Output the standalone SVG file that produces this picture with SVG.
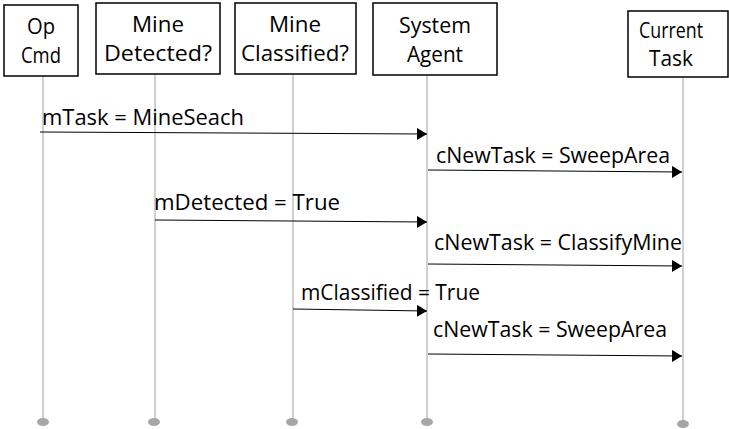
<svg xmlns="http://www.w3.org/2000/svg" width="729" height="429" viewBox="0 0 729 429">
<defs>
<marker id="ah" markerWidth="10" markerHeight="12" refX="10" refY="6" orient="auto" markerUnits="userSpaceOnUse">
<path d="M0,0 L10,6 L0,12 Z" fill="#000"/>
</marker>
<style>
.box{fill:#fff;stroke:#000;stroke-width:1.5}
.lbl{font-family:"Open Sans","Liberation Sans",sans-serif;font-size:21px;fill:#000;text-anchor:middle}
.msg{font-family:"Open Sans","Liberation Sans",sans-serif;font-size:21px;fill:#000}
.life{stroke:#c0c0c0;stroke-width:1.5;fill:none}
.dot{fill:#a6a6a6}
.arr{stroke:#000;stroke-width:1;fill:none;marker-end:url(#ah)}
</style>
</defs>
<rect width="729" height="429" fill="#fff"/>
<g id="lifelines">
<line class="life" x1="43" y1="76" x2="43" y2="422"/>
<line class="life" x1="155" y1="74" x2="155" y2="422"/>
<line class="life" x1="293" y1="74" x2="293" y2="422"/>
<line class="life" x1="427" y1="75" x2="427" y2="422"/>
<line class="life" x1="683" y1="77" x2="683" y2="424"/>
<ellipse class="dot" cx="43" cy="422" rx="6" ry="4"/>
<ellipse class="dot" cx="154" cy="422" rx="6" ry="4"/>
<ellipse class="dot" cx="292" cy="422" rx="6" ry="4"/>
<ellipse class="dot" cx="427" cy="422" rx="6" ry="4"/>
<ellipse class="dot" cx="683" cy="424" rx="6" ry="4"/>
</g>
<g id="opcmd">
<rect class="box" x="4" y="5" width="74" height="71"/>
<text class="lbl" x="41" y="34" textLength="28" lengthAdjust="spacingAndGlyphs">Op</text>
<text class="lbl" x="41" y="63" textLength="40" lengthAdjust="spacingAndGlyphs">Cmd</text>
</g>
<g id="minedetected">
<rect class="box" x="96" y="3" width="124" height="71"/>
<text class="lbl" x="158" y="32" textLength="52" lengthAdjust="spacingAndGlyphs">Mine</text>
<text class="lbl" x="158" y="61" textLength="108" lengthAdjust="spacingAndGlyphs">Detected?</text>
</g>
<g id="mineclassified">
<rect class="box" x="235" y="3" width="121" height="71"/>
<text class="lbl" x="295" y="32" textLength="52" lengthAdjust="spacingAndGlyphs">Mine</text>
<text class="lbl" x="295" y="61" textLength="108" lengthAdjust="spacingAndGlyphs">Classified?</text>
</g>
<g id="systemagent">
<rect class="box" x="373" y="3" width="124" height="72"/>
<text class="lbl" x="435" y="33" textLength="72" lengthAdjust="spacingAndGlyphs">System</text>
<text class="lbl" x="435" y="62" textLength="56" lengthAdjust="spacingAndGlyphs">Agent</text>
</g>
<g id="currenttask">
<rect class="box" x="628" y="11" width="100" height="66"/>
<text class="lbl" x="671" y="38" textLength="64" lengthAdjust="spacingAndGlyphs">Current</text>
<text class="lbl" x="671" y="66" textLength="44" lengthAdjust="spacingAndGlyphs">Task</text>
</g>
<g id="connectors">
<line class="arr" x1="40" y1="132" x2="427" y2="134"/>
<text class="msg" x="42" y="125" textLength="202" lengthAdjust="spacingAndGlyphs">mTask = MineSeach</text>
<line class="arr" x1="428" y1="170" x2="682" y2="172"/>
<text class="msg" x="436" y="163" textLength="234" lengthAdjust="spacingAndGlyphs">cNewTask = SweepArea</text>
<line class="arr" x1="155" y1="220" x2="427" y2="222"/>
<text class="msg" x="154" y="210" textLength="186" lengthAdjust="spacingAndGlyphs">mDetected = True</text>
<line class="arr" x1="428" y1="264" x2="682" y2="266"/>
<text class="msg" x="434" y="250" textLength="248" lengthAdjust="spacingAndGlyphs">cNewTask = ClassifyMine</text>
<line class="arr" x1="293" y1="309" x2="427" y2="311"/>
<text class="msg" x="301" y="300" textLength="179" lengthAdjust="spacingAndGlyphs">mClassified = True</text>
<line class="arr" x1="428" y1="354" x2="682" y2="356"/>
<text class="msg" x="433" y="337" textLength="234" lengthAdjust="spacingAndGlyphs">cNewTask = SweepArea</text>
</g>
</svg>
